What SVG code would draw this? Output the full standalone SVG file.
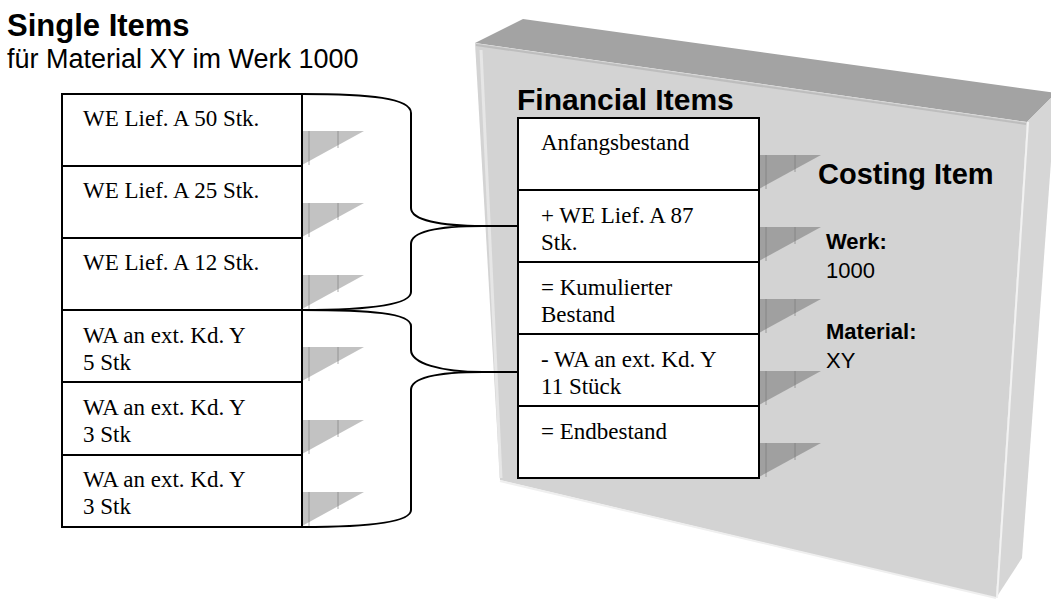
<svg xmlns="http://www.w3.org/2000/svg" width="1051" height="599" viewBox="0 0 1051 599">
  <style>
    .title { font-family: "Liberation Sans", Arial, sans-serif; font-weight: bold; font-size: 30px; fill: #000; }
    .sub { font-family: "Liberation Sans", Arial, sans-serif; font-size: 27px; fill: #000; }
    .lbl { font-family: "Liberation Sans", Arial, sans-serif; font-weight: bold; font-size: 22px; fill: #000; }
    .val { font-family: "Liberation Sans", Arial, sans-serif; font-size: 22px; fill: #000; }
    .item { font-family: "Liberation Serif", "Times New Roman", serif; font-size: 23px; fill: #000; }
    .box { fill: #fff; stroke: #000; stroke-width: 2; }
    .brace { fill: none; stroke: #000; stroke-width: 2; }
    .shade { fill: #000; fill-opacity: 0.24; }
    .rib { stroke: #777; stroke-opacity: 0.6; stroke-width: 1; }
  </style>
  <defs>
    <!-- small drop-shadow wedge to the right of each row -->
    <g id="wedge">
      <polygon class="shade" points="0,0 62,0 0,34"/>
      <line class="rib" x1="7" y1="0" x2="7" y2="34"/>
      <line class="rib" x1="36" y1="0" x2="36" y2="17"/>
    </g>
  </defs>

  <rect width="1051" height="599" fill="#fff"/>

  <!-- Costing item slab -->
  <g id="slab">
    <polygon points="475,43 523,19 1056,93 1027,122" fill="#a3a3a3"/>
    <polygon points="1027,122 1056,93 1022,558 996,598" fill="#d6d6d6"/>
    <polygon points="475,43 1027,122 996,598 500,480" fill="#d3d3d3"/>
    <line x1="476" y1="45" x2="1026" y2="124" stroke="#bdbdbd" stroke-width="2"/>
    <line x1="1028" y1="122" x2="997" y2="598" stroke="#f2f2f2" stroke-width="2"/>
    <line x1="481" y1="50" x2="501" y2="478" stroke="#e6e6e6" stroke-width="3"/>
    <line x1="500" y1="481" x2="996" y2="598" stroke="#efefef" stroke-width="2"/>
  </g>

  <!-- headings -->
  <g id="single-title">
    <text class="title" x="7" y="36" style="font-size:31px">Single Items</text>
    <text class="sub" x="7" y="68">für Material XY im Werk 1000</text>
  </g>
  <g id="financial-title">
    <text class="title" x="517" y="110">Financial Items</text>
  </g>
  <g id="costing-item">
    <text class="title" x="818" y="184" style="font-size:29px">Costing Item</text>
    <text class="lbl" x="826" y="249">Werk:</text>
    <text class="val" x="826" y="278">1000</text>
    <text class="lbl" x="826" y="339">Material:</text>
    <text class="val" x="826" y="368">XY</text>
  </g>

  <!-- connectors: braces gathering the single items -->
  <g id="connectors">
    <path class="brace" d="M302,94 C370,94 411,98 411,113 L411,208 C411,220 440,226 483,226 L518,226 M483,226 C440,226 411,231 411,244 L411,292 C411,305 370,310 302,310"/>
    <path class="brace" d="M302,310 C370,310 411,313 411,326 L411,350 C411,363 440,372 483,372 L518,372 M483,372 C440,372 411,377 411,390 L411,510 C411,522 370,527 302,527"/>
  </g>

  <!-- single items -->
  <g id="single-1">
    <rect class="box" x="62" y="94" width="240" height="72"/>
    <use href="#wedge" x="302" y="131"/>
    <text class="item" x="83" y="126">WE Lief. A 50 Stk.</text>
  </g>
  <g id="single-2">
    <rect class="box" x="62" y="166" width="240" height="72"/>
    <use href="#wedge" x="302" y="203"/>
    <text class="item" x="83" y="198">WE Lief. A 25 Stk.</text>
  </g>
  <g id="single-3">
    <rect class="box" x="62" y="238" width="240" height="72"/>
    <use href="#wedge" x="302" y="275"/>
    <text class="item" x="83" y="270">WE Lief. A 12 Stk.</text>
  </g>
  <g id="single-4">
    <rect class="box" x="62" y="310" width="240" height="72"/>
    <use href="#wedge" x="302" y="347"/>
    <text class="item" x="83" y="343">WA an ext. Kd. Y</text>
    <text class="item" x="83" y="370">5 Stk</text>
  </g>
  <g id="single-5">
    <rect class="box" x="62" y="382" width="240" height="73"/>
    <use href="#wedge" x="302" y="420"/>
    <text class="item" x="83" y="415">WA an ext. Kd. Y</text>
    <text class="item" x="83" y="442">3 Stk</text>
  </g>
  <g id="single-6">
    <rect class="box" x="62" y="455" width="240" height="72"/>
    <use href="#wedge" x="302" y="492"/>
    <text class="item" x="83" y="487">WA an ext. Kd. Y</text>
    <text class="item" x="83" y="514">3 Stk</text>
  </g>

  <!-- financial items -->
  <g id="fin-1">
    <rect class="box" x="518" y="118" width="241" height="72"/>
    <use href="#wedge" x="759" y="155"/>
    <text class="item" x="541" y="150">Anfangsbestand</text>
  </g>
  <g id="fin-2">
    <rect class="box" x="518" y="190" width="241" height="72"/>
    <use href="#wedge" x="759" y="227"/>
    <text class="item" x="541" y="223">+ WE Lief. A 87</text>
    <text class="item" x="541" y="250">Stk.</text>
  </g>
  <g id="fin-3">
    <rect class="box" x="518" y="262" width="241" height="72"/>
    <use href="#wedge" x="759" y="299"/>
    <text class="item" x="541" y="295">= Kumulierter</text>
    <text class="item" x="541" y="322">Bestand</text>
  </g>
  <g id="fin-4">
    <rect class="box" x="518" y="334" width="241" height="72"/>
    <use href="#wedge" x="759" y="371"/>
    <text class="item" x="541" y="367">- WA an ext. Kd. Y</text>
    <text class="item" x="541" y="394">11 Stück</text>
  </g>
  <g id="fin-5">
    <rect class="box" x="518" y="406" width="241" height="72"/>
    <use href="#wedge" x="759" y="443"/>
    <text class="item" x="541" y="439">= Endbestand</text>
  </g>
</svg>
